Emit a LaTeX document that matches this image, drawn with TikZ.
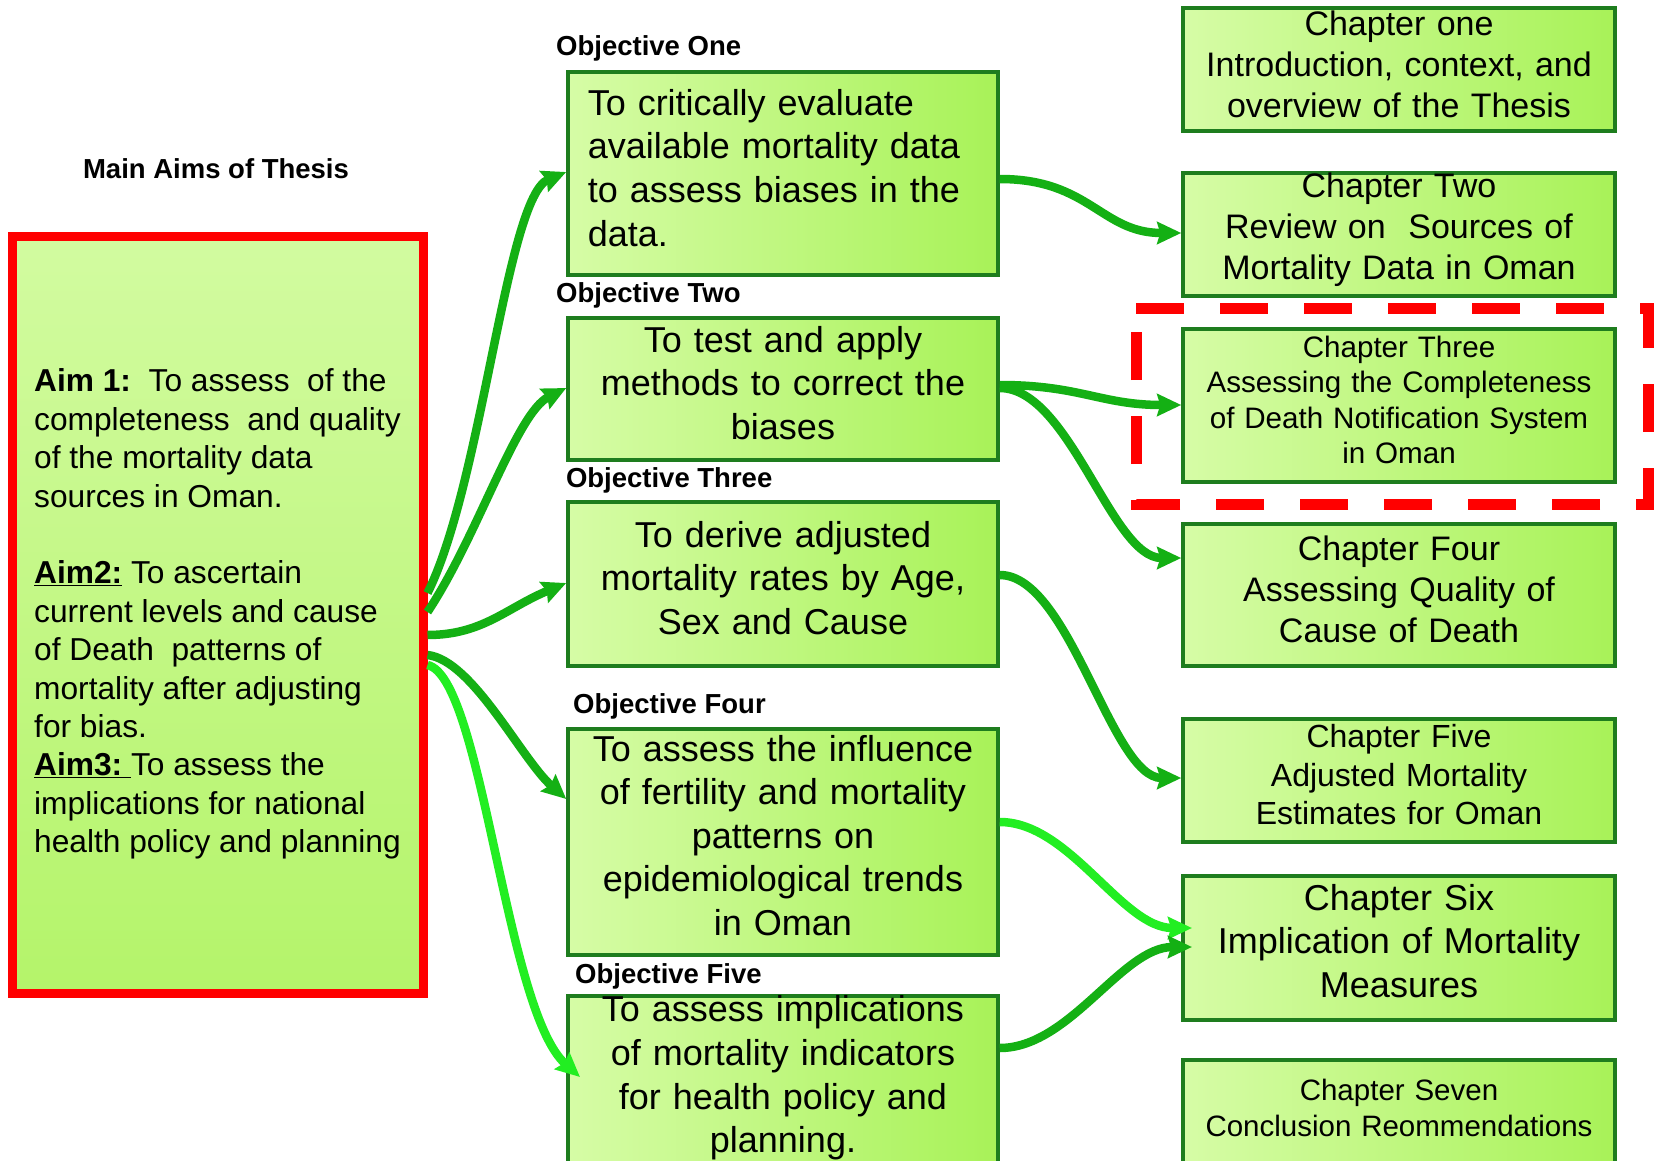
\documentclass[tikz,border=0pt]{standalone}
\usepackage{fontspec}
\setmainfont{Liberation Sans}
\usetikzlibrary{arrows.meta,calc}
\definecolor{boxgreen}{RGB}{30,125,30}
\definecolor{lightfill}{RGB}{214,252,166}
\definecolor{darkfill}{RGB}{168,242,88}
\definecolor{aimtop}{RGB}{210,251,160}
\definecolor{aimbottom}{RGB}{180,244,106}
\definecolor{arrowgreen}{RGB}{20,176,20}
\definecolor{brightgreen}{RGB}{34,238,34}
\definecolor{hired}{RGB}{255,0,0}
\tikzset{
  gbox/.style={draw=boxgreen, line width=4pt, left color=lightfill, right color=darkfill, inner sep=0pt},
  objbox/.style={gbox, minimum width=429.5pt},
  chbox/.style={gbox, minimum width=431.5pt},
  objtext/.style={text width=390.5pt, align=center, inner sep=0pt, font=\fontsize{36}{43.6}\selectfont},
  chtext/.style={text width=411.5pt, align=center, inner sep=0pt},
  lbl/.style={anchor=west, inner sep=0pt, font=\bfseries\fontsize{27.5}{33}\selectfont},
  conn/.style={line width=8.5pt, draw=arrowgreen, -{Stealth[length=24pt,width=22pt,inset=3pt]}},
  connbright/.style={conn, draw=brightgreen},
}
\begin{document}
\begin{tikzpicture}[x=1pt,y=-1pt]
\useasboundingbox (0,0) rectangle (1655,1161);
\fill[white] (0,0) rectangle (1655,1161);
\begin{scope}
\clip (0,0) rectangle (1655,1161);

% title
\node[font=\bfseries\fontsize{27.5}{33}\selectfont] (title) at (216,169) {Main Aims of Thesis};

% aims box
\node[draw=hired, line width=9pt, top color=aimtop, bottom color=aimbottom,
      minimum width=411pt, minimum height=756.5pt] (aim) at (217.5,614.75) {};
\node[anchor=west, align=left, inner sep=0pt, font=\fontsize{31.7}{38.4}\selectfont] (aimtext) at (34,614)
 {\textbf{Aim 1:}\ \ To assess\ \ of the\\
  completeness\ \ and quality\\
  of the mortality data\\
  sources in Oman.\\[38.4pt]
  \underline{\textbf{Aim2:}} To ascertain\\
  current levels and cause\\
  of Death\ \ patterns of\\
  mortality after adjusting\\
  for bias.\\
  \underline{\textbf{Aim3:}\ }To assess the\\
  implications for national\\
  health policy and planning};

% objective labels
\node[lbl] (l1) at (556,48.5) {Objective One};
\node[lbl] (l2) at (556,295.5) {Objective Two};
\node[lbl] (l3) at (565.8,480) {Objective Three};
\node[lbl] (l4) at (573,706) {Objective Four};
\node[lbl] (l5) at (575,976) {Objective Five};

% objective boxes
\node[objbox, minimum height=202.5pt] (obj1) at (783,173.75) {};
\node[objbox, minimum height=141.5pt] (obj2) at (783,389) {};
\node[objbox, minimum height=163.5pt] (obj3) at (783,584) {};
\node[objbox, minimum height=226pt] (obj4) at (783,841.5) {};
\node[objbox, minimum height=176pt] (obj5) at (783,1084) {};

\node[objtext, align=left] (obj1t) at ([yshift=6pt]obj1.center)
 {To critically evaluate\\ available mortality data\\ to assess biases in the\\ data.};
\node[objtext] (obj2t) at ([yshift=6pt]obj2.center)
 {To test and apply\\ methods to correct the\\ biases};
\node[objtext] (obj3t) at ([yshift=6pt]obj3.center)
 {To derive adjusted\\ mortality rates by Age,\\ Sex and Cause};
\node[objtext] (obj4t) at ([yshift=6pt]obj4.center)
 {To assess the influence\\ of fertility and mortality\\ patterns on\\ epidemiological trends\\ in Oman};
\node[objtext] (obj5t) at ([yshift=6pt]obj5.center)
 {To assess implications\\ of mortality indicators\\ for health policy and\\ planning.};

% chapter boxes
\node[chbox, minimum height=123pt] (ch1) at (1399,70) {};
\node[chbox, minimum height=122.5pt] (ch2) at (1399,234.75) {};
\node[chbox, minimum height=153pt] (ch3) at (1399,405) {};
\node[chbox, minimum height=142.5pt] (ch4) at (1399,594.75) {};
\node[chbox, minimum height=123pt] (ch5) at (1399,780) {};
\node[chbox, minimum height=143.5pt] (ch6) at (1399,948) {};
\node[chbox, minimum height=108pt] (ch7) at (1399,1114) {};

\node[chtext, font=\fontsize{34}{41}\selectfont] (ch1t) at ([yshift=6pt]ch1.center)
 {Chapter one\\ Introduction, context, and\\ overview of the Thesis};
\node[chtext, font=\fontsize{34}{41}\selectfont] (ch2t) at ([yshift=5pt]ch2.center)
 {Chapter Two\\ Review on\ \ Sources of\\ Mortality Data in Oman};
\node[chtext, font=\fontsize{29.6}{35.5}\selectfont] (ch3t) at ([yshift=5pt]ch3.center)
 {Chapter Three\\ Assessing the Completeness\\ of Death Notification System\\ in Oman};
\node[chtext, font=\fontsize{34}{41}\selectfont] (ch4t) at ([yshift=5pt]ch4.center)
 {Chapter Four\\ Assessing Quality of\\ Cause of Death};
\node[chtext, font=\fontsize{32}{38.5}\selectfont] (ch5t) at ([yshift=5pt]ch5.center)
 {Chapter Five\\ Adjusted Mortality\\ Estimates for Oman};
\node[chtext, font=\fontsize{36}{43.8}\selectfont] (ch6t) at ([yshift=7pt]ch6.center)
 {Chapter Six\\ Implication of Mortality\\ Measures};
\node[chtext, font=\fontsize{29.5}{36}\selectfont] (ch7t) at ([yshift=6pt]ch7.center)
 {Chapter Seven\\ Conclusion Reommendations};

% highlight around chapter three
\draw[hired, line width=11pt, dash pattern=on 48pt off 36pt]
  (1136,308) -- (1648,308) -- (1648,504) -- (1136,504) -- cycle;

% free arrow ends
\coordinate (t5) at (580,1077);
\coordinate (t10) at (1192,928);
\coordinate (t11) at (1192,947);

% aims -> objectives
\draw[conn] (aim.east |- 0,593) .. controls +(55,-110) and +(-60,25) .. (obj1.west |- 0,172);
\draw[conn] (aim.east |- 0,612) .. controls +(50,-75) and +(-50,25) .. (obj2.west |- 0,388);
\draw[conn] (aim.east |- 0,635) .. controls +(55,0) and +(-60,25) .. (obj3.west |- 0,583);
\draw[conn] (aim.east |- 0,655) .. controls +(45,5) and +(-45,-40) .. (obj4.west |- 0,799);
\draw[connbright] (aim.east |- 0,665) .. controls +(55,12) and +(-75,-67) .. (t5);

% objectives -> chapters
\draw[conn] (obj1.east |- 0,179) .. controls +(90,0) and +(-80,0) .. (ch2.west |- 0,233);
\draw[conn] (obj2.east |- 0,385) .. controls +(80,0) and +(-80,0) .. (ch3.west |- 0,405);
\draw[conn] (obj2.east |- 0,388) .. controls +(70,0) and +(-70,0) .. (ch4.west |- 0,558);
\draw[conn] (obj3.east |- 0,575) .. controls +(70,0) and +(-70,0) .. (ch5.west |- 0,778);
\draw[connbright] (obj4.east |- 0,822) .. controls +(70,0) and +(-70,0) .. (t10);
\draw[conn] (obj5.east |- 0,1048) .. controls +(70,0) and +(-70,0) .. (t11);
\end{scope}
\end{tikzpicture}
\end{document}
